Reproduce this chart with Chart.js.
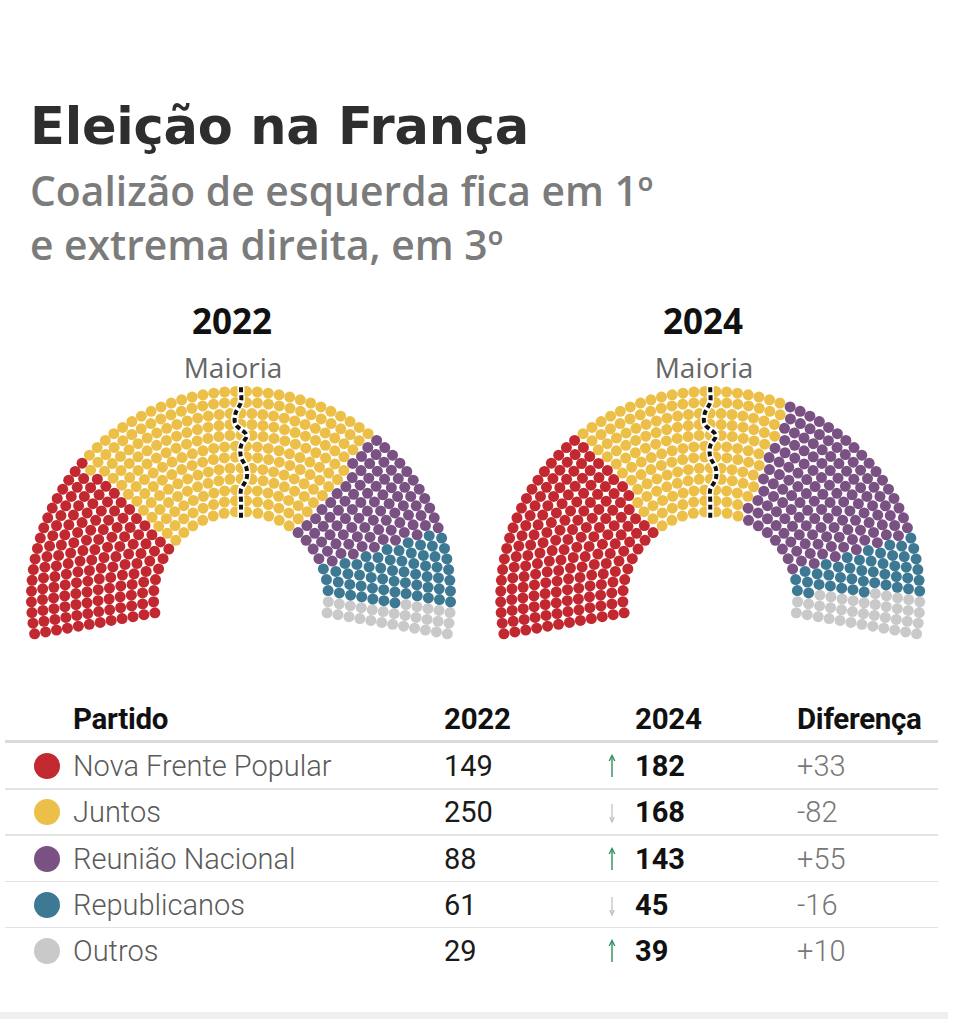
<!DOCTYPE html>
<html><head><meta charset="utf-8">
<script src="https://cdn.jsdelivr.net/npm/chart.js@4.4.1/dist/chart.umd.min.js"></script>
<style>
html,body{margin:0;padding:0;background:#fff}
body{width:975px;height:1019px;position:relative;overflow:hidden;font-family:Roboto,"Open Sans",sans-serif}
.abs{position:absolute;white-space:nowrap}
#title{left:30px;top:92px;font-family:"DejaVu Sans";font-weight:700;font-size:51px;line-height:70px;color:#2e2e2e;letter-spacing:-0.2px}
#sub{left:30px;top:163px;font-family:"Open Sans";font-weight:600;font-size:40.8px;line-height:54px;color:#7b7b7b}
.year{font-family:"Open Sans";font-weight:700;font-size:35px;line-height:40px;color:#111;transform:translateX(-50%)}
.maj{font-family:"Open Sans";font-weight:400;font-size:28px;line-height:30px;color:#666;transform:translateX(-50%)}
canvas{position:absolute}
.hline{position:absolute;left:5px;width:933px;background:#e2e2e2}
.th{font-weight:700;font-size:29.5px;line-height:32px;color:#111;letter-spacing:-0.3px}
.td{font-size:29px;line-height:32px}
.dot{position:absolute;width:26px;height:26px;border-radius:50%}
#foot{position:absolute;left:0;top:1012px;width:948px;height:7px;background:#efefef}
</style></head><body>
<div id="title" class="abs">Eleição na França</div>
<div id="sub" class="abs">Coalizão de esquerda fica em 1º<br>e extrema direita, em 3º</div>
<div id="labels"></div>
<canvas id="c0" width="480" height="290" style="left:0;top:370px"></canvas>
<canvas id="c1" width="480" height="290" style="left:480px;top:370px"></canvas>
<div id="table"></div>
<div id="foot"></div>
<script>
// ---- data ----
const parties = ["Nova Frente Popular", "Juntos", "Reunião Nacional", "Republicanos", "Outros"];
const partyColors = ["#c2282f", "#ebbf48", "#7a5183", "#3e7993", "#c9c9c9"];
const seats2022 = [149, 250, 88, 61, 29];
const seats2024 = [182, 168, 143, 45, 39];
const years = ["2022", "2024"];
const headers = ["Partido", "2022", "2024", "Diferença"];
const majorityLabel = "Maioria";
const totalSeats = 577;
const majoritySeats = 289;

// ---- hemicycle layout (seat positions computed from the seat counts) ----
const ROWS = 12, R_IN = 89.5, R_OUT = 214.5, OVER = 0.176;
function buildSeats() {
  const d = (R_OUT - R_IN) / (ROWS - 1);
  const radii = [];
  for (let i = 0; i < ROWS; i++) radii.push(R_IN + i * d);
  const sumR = radii.reduce((a, b) => a + b, 0);
  const raw = radii.map(r => totalSeats * r / sumR);
  const counts = raw.map(Math.floor);
  let rest = totalSeats - counts.reduce((a, b) => a + b, 0);
  const order = raw.map((v, i) => [v - Math.floor(v), i]).sort((a, b) => b[0] - a[0]);
  for (let k = 0; k < rest; k++) counts[order[k][1]]++;
  const span = Math.PI + 2 * OVER;
  const seats = [];
  radii.forEach((r, i) => {
    const n = counts[i];
    for (let j = 0; j < n; j++) {
      seats.push({ a: Math.PI + OVER - j * span / (n - 1), r: r, row: i });
    }
  });
  seats.sort((p, q) => (q.a - p.a) || (p.row - q.row));
  seats.forEach((s, k) => s.rank = k);
  return { seats, radii, d };
}

function hemicycleData(counts) {
  const { seats, radii, d } = buildSeats();
  const groups = counts.map(() => []);
  let p = 0, acc = counts[0];
  seats.forEach((s, k) => {
    while (k >= acc && p < counts.length - 1) { p++; acc += counts[p]; }
    groups[p].push({ x: s.r * Math.cos(s.a), y: s.r * Math.sin(s.a) });
  });
  // majority boundary: between seat #majoritySeats and the next one, row by row
  const line = [];
  radii.forEach((r, i) => {
    const rowSeats = seats.filter(s => s.row === i);
    const k = rowSeats.filter(s => s.rank < majoritySeats).length;
    const a = (rowSeats[k - 1].a + rowSeats[k].a) / 2;
    if (i === 0) line.push({ x: (r - d * 0.55) * Math.cos(a), y: (r - d * 0.55) * Math.sin(a) });
    line.push({ x: r * Math.cos(a), y: r * Math.sin(a) });
    if (i === ROWS - 1) line.push({ x: (r + d * 0.55) * Math.cos(a), y: (r + d * 0.55) * Math.sin(a) });
  });
  return { groups, line };
}

function drawHemicycle(canvasId, counts, xMin, xMax) {
  const { groups, line } = hemicycleData(counts);
  const datasets = [
    { type: 'line', data: line, borderColor: '#111', borderWidth: 4, borderDash: [5, 3], pointRadius: 0, tension: 0.35, order: 0, clip: false },
    { type: 'line', data: line, borderColor: '#ffffff', borderWidth: 7, pointRadius: 0, tension: 0.35, order: 1, clip: false }
  ];
  groups.forEach((g, i) => datasets.push({
    type: 'scatter', label: parties[i], data: g, backgroundColor: partyColors[i],
    borderWidth: 0, pointRadius: 5.5, pointHoverRadius: 5.5, order: 2, clip: false
  }));
  new Chart(document.getElementById(canvasId), {
    data: { datasets },
    options: {
      responsive: false, animation: false, devicePixelRatio: 1,
      layout: { padding: 0 },
      events: [],
      plugins: { legend: { display: false }, tooltip: { enabled: false } },
      scales: {
        x: { type: 'linear', min: xMin, max: xMax, display: false },
        y: { type: 'linear', min: -59, max: 231, display: false }
      }
    }
  });
}
drawHemicycle('c0', seats2022, -241, 239);
drawHemicycle('c1', seats2024, -230, 250);

// ---- labels above hemicycles ----
const labels = document.getElementById('labels');
[[232, years[0]], [703, years[1]]].forEach(([x, t]) => {
  const y = document.createElement('div'); y.className = 'abs year'; y.style.left = x + 'px'; y.style.top = '301px'; y.textContent = t; labels.appendChild(y);
  const m = document.createElement('div'); m.className = 'abs maj'; m.style.left = (x + 1) + 'px'; m.style.top = '352px'; m.textContent = majorityLabel; labels.appendChild(m);
});

// ---- table ----
const table = document.getElementById('table');
const colX = [73, 444, 635, 797];
function add(html, cls, x, yc, lh, style) {
  const el = document.createElement('div');
  el.className = 'abs ' + cls; el.style.left = x + 'px'; el.style.top = (yc - lh / 2) + 'px';
  if (style) el.style.cssText += style;
  el.innerHTML = html; table.appendChild(el); return el;
}
headers.forEach((h, i) => add(h, 'th', colX[i], 719, 32));
function hline(y, h, c) { const l = document.createElement('div'); l.className = 'hline'; l.style.top = y + 'px'; l.style.height = h + 'px'; if (c) l.style.background = c; table.appendChild(l); }
hline(740, 2.5, '#dadada');
const arrowUp = '<svg width="8" height="24" viewBox="0 0 8 24"><line x1="4" y1="3" x2="4" y2="23" stroke="#2f8f62" stroke-width="1.4"/><path d="M1.2 7 L4 1.5 L6.8 7" fill="none" stroke="#2f8f62" stroke-width="1.4"/></svg>';
const arrowDown = '<svg width="8" height="24" viewBox="0 0 8 24"><line x1="4" y1="4" x2="4" y2="21" stroke="#bdbdbd" stroke-width="1.2"/><path d="M1.8 17 L4 22 L6.2 17" fill="none" stroke="#bdbdbd" stroke-width="1.2"/></svg>';
parties.forEach((p, i) => {
  const yc = 766 + i * 46.3;
  const dot = document.createElement('div'); dot.className = 'dot';
  dot.style.left = (47 - 13) + 'px'; dot.style.top = (yc - 13) + 'px'; dot.style.background = partyColors[i];
  table.appendChild(dot);
  add(p, 'td', colX[0], yc, 32, 'font-weight:300;color:#5a5a5a');
  add(String(seats2022[i]), 'td', colX[1], yc, 32, 'font-weight:400;color:#1a1a1a');
  const diff = seats2024[i] - seats2022[i];
  add(diff >= 0 ? arrowUp : arrowDown, '', 608, yc, 24, 'line-height:0');
  add(String(seats2024[i]), 'td', colX[2], yc, 32, 'font-weight:700;color:#111');
  add((diff >= 0 ? '+' : '-') + Math.abs(diff), 'td', colX[3], yc, 32, 'font-weight:300;color:#777');
  if (i < parties.length - 1) hline(yc + 22, 1.5, '#e3e3e3');
});
</script>
</body></html>
